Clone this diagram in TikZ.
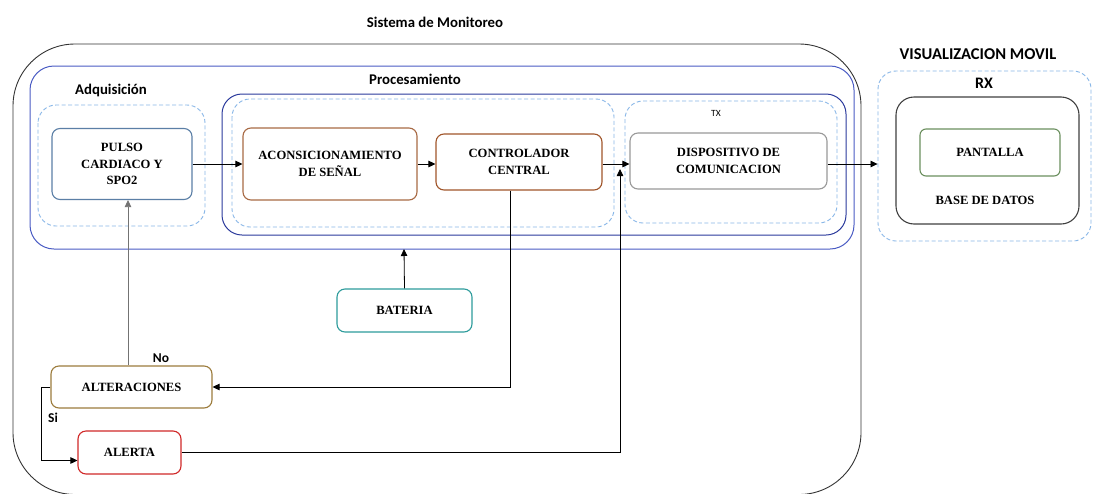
\documentclass[tikz,border=0pt]{standalone}
\usepackage{fontspec}
\setmainfont{Liberation Serif}
\newfontfamily\lblfont{Carlito}
\usetikzlibrary{arrows.meta,calc}

\definecolor{cPulso}{HTML}{5B7FA6}
\definecolor{cAcond}{HTML}{A86A45}
\definecolor{cCtrl}{HTML}{A0552A}
\definecolor{cDisp}{HTML}{999999}
\definecolor{cBat}{HTML}{2E9C9C}
\definecolor{cAlter}{HTML}{9C7C3C}
\definecolor{cAlerta}{HTML}{D02828}
\definecolor{cPant}{HTML}{6B8F5E}
\definecolor{cBlue}{HTML}{4A5CC4}
\definecolor{cNavy}{HTML}{2B3A9C}
\definecolor{cDash}{HTML}{8AB8E8}

\begin{document}
\begin{tikzpicture}[x=1pt,y=-1pt,
  box/.style={draw, rounded corners=8pt, line width=1.1pt, fill=white, align=center,
    inner sep=2pt, font=\bfseries\fontsize{12.6}{16.5}\selectfont},
  group/.style={draw=cDash, dashed, dash pattern=on 4pt off 2.5pt, line width=0.9pt, rounded corners=18pt},
  lbl/.style={font=\lblfont\bfseries\fontsize{14.8}{16}\selectfont},
  arr/.style={line width=0.8pt, -{Triangle[length=7pt,width=6.5pt]}},
  ln/.style={line width=0.8pt}
]
\clip (0,0) rectangle (1094,493);
\fill[white] (0,0) rectangle (1094,493);

% system frame and nested groups
\draw[line width=0.9pt, draw=black!80, rounded corners=62pt] (13,44) rectangle (861,494.5);
\node[lbl] (tsis) at (435,22) {Sistema de Monitoreo};

\draw[line width=1pt, draw=cBlue, rounded corners=24pt] (30,66) rectangle (854,249);
\coordinate (procB) at (404,249);
\node[lbl] (tproc) at (415,79) {Procesamiento};
\node[lbl] (tadq) at (111,90) {Adquisición};

\draw[line width=1pt, draw=cNavy, rounded corners=20pt] (222,94) rectangle (846,235);
\draw[group] (38,105) rectangle (205,226);
\draw[group] (232,99) rectangle (614,227);
\draw[group] (625,101) rectangle (837,223);
\node[font=\lblfont\fontsize{9.5}{10}\selectfont] (ttx) at (716,113) {TX};

% mobile visualisation
\node[lbl, font=\lblfont\bfseries\fontsize{16.5}{18}\selectfont] (tvis) at (978,54) {VISUALIZACION MOVIL};
\node[group, minimum width=213pt, minimum height=170pt] (rx) at (984.5,156) {};
\node[lbl, font=\lblfont\bfseries\fontsize{16}{18}\selectfont] (trx) at (984,83) {RX};
\draw[line width=1.1pt, draw=black!75, rounded corners=18pt] (896,97) rectangle (1079,224);
\node[box, draw=cPant, minimum width=140pt, minimum height=47pt, rounded corners=6pt] (pant) at (990,152.5) {PANTALLA};
\node[font=\bfseries\fontsize{12.6}{14}\selectfont] (bd) at (985,200) {BASE DE DATOS};

% blocks
\node[box, draw=cPulso, minimum width=140pt, minimum height=71pt] (pulso) at (122,164) {PULSO\\CARDIACO Y\\SPO2};
\node[box, draw=cAcond, minimum width=174pt, minimum height=72pt] (acond) at (330,164) {ACONSICIONAMIENTO\\DE SEÑAL};
\node[box, draw=cCtrl, minimum width=166pt, minimum height=56pt] (ctrl) at (519,162) {CONTROLADOR\\CENTRAL};
\node[box, draw=cDisp, minimum width=197pt, minimum height=56pt] (disp) at (728.5,161) {DISPOSITIVO DE\\COMUNICACION};
\node[box, draw=cBat, minimum width=135pt, minimum height=43pt] (bat) at (404.5,310.5) {BATERIA};
\node[box, draw=cAlter, minimum width=161pt, minimum height=42pt] (alter) at (131.5,387) {ALTERACIONES};
\node[box, draw=cAlerta, minimum width=103pt, minimum height=43pt] (alerta) at (129.5,452.5) {ALERTA};

\node[lbl, font=\lblfont\bfseries\fontsize{13.5}{15}\selectfont] (tno) at (161,358) {No};
\node[lbl, font=\lblfont\bfseries\fontsize{13.5}{15}\selectfont] (tsi) at (53,418) {Si};

% connectors
\draw[arr] (pulso.east) -- (acond.west);
\draw[arr] (acond.east) -- (acond.east -| ctrl.west);
\draw[arr] (acond.east -| ctrl.east) -- (acond.east -| disp.west);
\draw[arr] (acond.east -| disp.east) -- (acond.east -| rx.west);
\draw[arr] (bat.north) -- (procB);
\draw[arr] ([xshift=-9pt]ctrl.south) |- (alter.east);
\draw[arr, draw=black!55] ([xshift=-3.5pt]alter.north) -- ([xshift=-3.5pt]alter.north |- pulso.south);
\coordinate (siturn) at (41,387);
\draw[arr] (alter.west) -- (siturn) |- ([yshift=-8pt]alerta.west);
\coordinate (up) at (620,169);
\draw[arr] (alerta.east) -| (up);
\end{tikzpicture}
\end{document}
